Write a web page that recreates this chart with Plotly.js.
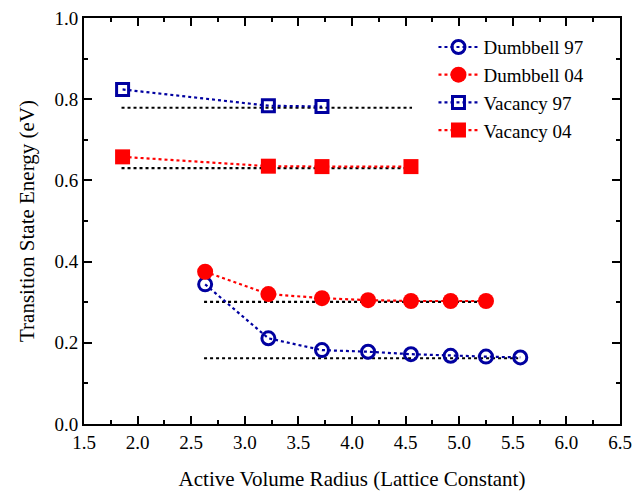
<!DOCTYPE html>
<html>
<head>
<meta charset="utf-8">
<script src="https://cdn.plot.ly/plotly-3.0.1.min.js"></script>
<style>
html,body{margin:0;padding:0;background:#fff;}
#chart{width:633px;height:495px;}
.modebar,.modebar-container{display:none !important;}
</style>
</head>
<body>
<div id="chart"></div>
<script>
// Data
const dumbbellX = [2.63, 3.22, 3.72, 4.15, 4.55, 4.92, 5.25, 5.57];
const dumbbell97 = [0.344, 0.211, 0.182, 0.178, 0.172, 0.168, 0.166, 0.164];
const dumbbell04X = [2.63, 3.22, 3.72, 4.15, 4.55, 4.92, 5.25];
const dumbbell04 = [0.375, 0.320, 0.310, 0.305, 0.303, 0.303, 0.303];
const vacancyX = [1.86, 3.22, 3.72];
const vacancy97 = [0.824, 0.784, 0.782];
const vacancy04X = [1.86, 3.22, 3.72, 4.55];
const vacancy04 = [0.658, 0.635, 0.634, 0.634];
// Reference (converged) levels, black dotted
const refVac97X = [1.85, 4.56], refVac97Y = [0.779, 0.779];
const refVac04X = [1.85, 4.56], refVac04Y = [0.630, 0.630];
const refDb04X = [2.62, 5.25], refDb04Y = [0.301, 0.301];
const refDb97X = [2.62, 5.55], refDb97Y = [0.162, 0.162];
const xTicks = [1.5, 2.0, 2.5, 3.0, 3.5, 4.0, 4.5, 5.0, 5.5, 6.0, 6.5];
const yTicks = [0.0, 0.2, 0.4, 0.6, 0.8, 1.0];

const navy = '#0000a0', red = '#ff0000';
const SERIF = 'Liberation Serif';
function refLine(x, y) {
  return {x: x, y: y, mode: 'lines', showlegend: false, hoverinfo: 'skip',
          line: {color: '#000', dash: 'dot', width: 2.2}};
}
const traces = [
  refLine(refVac97X, refVac97Y), refLine(refVac04X, refVac04Y),
  refLine(refDb04X, refDb04Y), refLine(refDb97X, refDb97Y),
  {x: dumbbellX, y: dumbbell97, name: 'Dumbbell 97', mode: 'lines+markers',
   line: {color: navy, dash: 'dot', width: 2.2},
   marker: {symbol: 'circle-open', size: 13, color: navy, line: {width: 3, color: navy}}},
  {x: dumbbell04X, y: dumbbell04, name: 'Dumbbell 04', mode: 'lines+markers',
   line: {color: red, dash: 'dot', width: 2.2},
   marker: {symbol: 'circle', size: 16, color: red}},
  {x: vacancyX, y: vacancy97, name: 'Vacancy 97', mode: 'lines+markers',
   line: {color: navy, dash: 'dot', width: 2.2},
   marker: {symbol: 'square-open', size: 12, color: navy, line: {width: 3, color: navy}}},
  {x: vacancy04X, y: vacancy04, name: 'Vacancy 04', mode: 'lines+markers',
   line: {color: red, dash: 'dot', width: 2.2},
   marker: {symbol: 'square', size: 15, color: red}}
];
const layout = {
  width: 633, height: 495,
  margin: {l: 84, r: 13, t: 18, b: 71},
  paper_bgcolor: '#fff', plot_bgcolor: '#fff',
  font: {family: SERIF, size: 18, color: '#000'},
  showlegend: true,
  legend: {x: 0.652, y: 0.975, xanchor: 'left', yanchor: 'top', bgcolor: 'rgba(0,0,0,0)',
           font: {family: SERIF, size: 19, color: '#000'}, tracegroupgap: 0, itemwidth: 40},
  xaxis: {range: [1.5, 6.5], tickvals: xTicks, ticktext: xTicks.map(v => v.toFixed(1)),
          ticks: 'inside', ticklen: 8, tickwidth: 1.5, tickcolor: '#000',
          showline: true, linewidth: 2, linecolor: '#000', mirror: 'ticks',
          showgrid: false, zeroline: false,
          minor: {dtick: 0.25, tick0: 1.5, ticks: 'inside', ticklen: 4, tickwidth: 1.5, tickcolor: '#000', showgrid: false},
          tickfont: {family: SERIF, size: 19, color: '#000'},
          title: {text: 'Active Volume Radius (Lattice Constant)', font: {family: SERIF, size: 21, color: '#000'}, standoff: 20}},
  yaxis: {range: [0, 1.0], tickvals: yTicks, ticktext: yTicks.map(v => v.toFixed(1)),
          ticks: 'inside', ticklen: 8, tickwidth: 1.5, tickcolor: '#000',
          showline: true, linewidth: 2, linecolor: '#000', mirror: 'ticks',
          showgrid: false, zeroline: false,
          minor: {dtick: 0.1, tick0: 0, ticks: 'inside', ticklen: 4, tickwidth: 1.5, tickcolor: '#000', showgrid: false},
          tickfont: {family: SERIF, size: 19, color: '#000'},
          title: {text: 'Transition State Energy (eV)', font: {family: SERIF, size: 21, color: '#000'}, standoff: 14}}
};
Plotly.newPlot('chart', traces, layout);
</script>
</body>
</html>
